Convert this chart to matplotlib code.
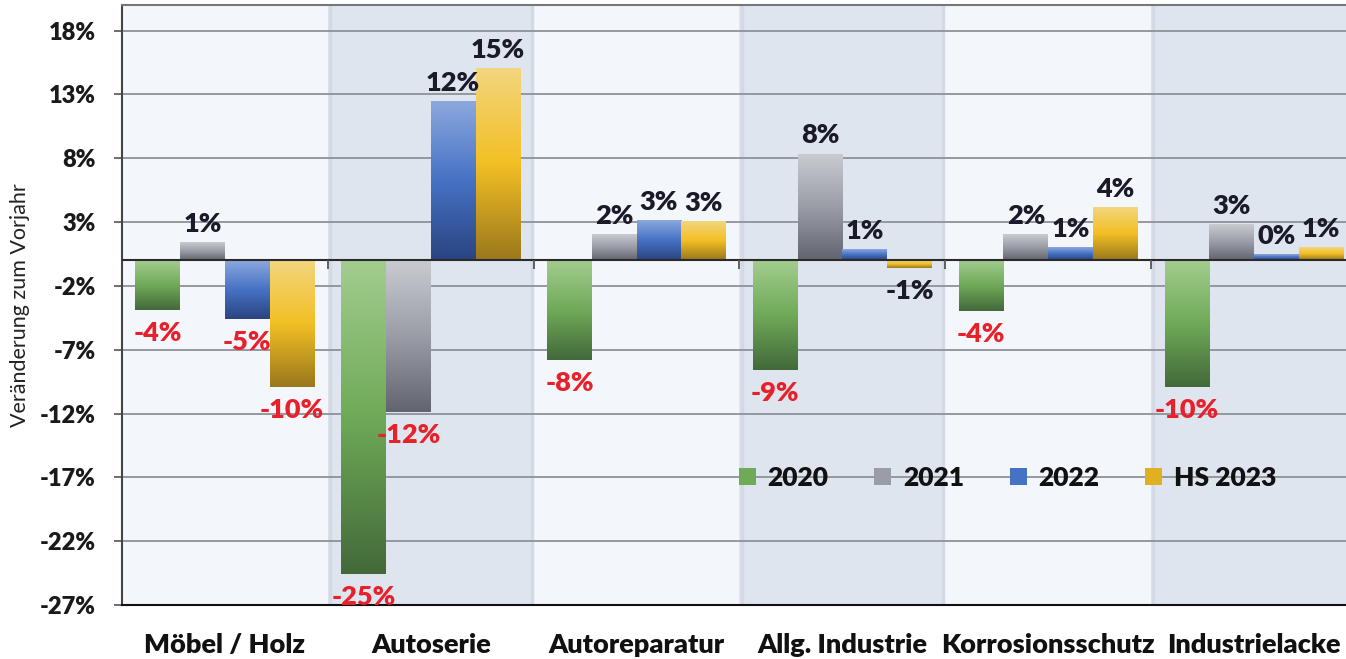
import numpy as np
import matplotlib
matplotlib.use("Agg")
import matplotlib.pyplot as plt
from matplotlib.colors import LinearSegmentedColormap
from matplotlib.patches import Patch

# data
categories = ["Möbel / Holz", "Autoserie", "Autoreparatur", "Allg. Industrie",
              "Korrosionsschutz", "Industrielacke"]
series = ["2020", "2021", "2022", "HS 2023"]
v2020 = [-3.9, -24.6, -7.8, -8.6, -4.0, -9.9]
v2021 = [1.4, -11.9, 2.0, 8.3, 2.0, 2.8]
v2022 = [-4.6, 12.4, 3.1, 0.8, 1.0, 0.45]
v2023 = [-9.9, 15.0, 3.0, -0.6, 4.1, 0.95]
yticks = list(range(-27, 19, 5))

plt.rcParams['font.family'] = ['Lato', 'DejaVu Sans']
BOLD = "heavy"

# gradient stops top -> bottom for each series
stops = [
    ["#A3CD8F", "#6FAA58", "#43693A"],
    ["#C9CBD1", "#9A9DA6", "#62656F"],
    ["#8CA8DE", "#4672C4", "#2A4480"],
    ["#F3D67E", "#F2BF24", "#9A781C"],
]
legend_cols = ["#6FAA58", "#9A9DA6", "#4672C4", "#E0B020"]

fig = plt.figure(figsize=(13.46, 6.59), dpi=100)
ax = fig.add_axes([122 / 1346, 54 / 659, 1235 / 1346, 600 / 659])
ax.set_facecolor("#F3F6FB")

n = len(categories)
x = np.arange(n)
for i in range(n):
    if i % 2 == 1:
        ax.axvspan(i - 0.5, i + 0.5, color="#DFE5EF", zorder=0, lw=0)
        ax.axvline(i - 0.49, color="#D3DAE6", lw=2.5, zorder=0.5)
        ax.axvline(i + 0.49, color="#D3DAE6", lw=2.5, zorder=0.5)

ax.set_yticks(yticks)
ax.set_yticklabels([f"{t}%" for t in yticks], fontsize=17, fontweight=BOLD,
                   color="#1A1A1A")
ax.grid(axis="y", color="#8E9198", lw=1.3, zorder=1)
ax.axhline(0, color="#2A2A2A", lw=1.5, zorder=4)

w = 0.2175
all_vals = [v2020, v2021, v2022, v2023]
grad = np.linspace(0, 1, 256).reshape(-1, 1)
for s, vals in enumerate(all_vals):
    offs = (s - 1.5) * w
    bars = ax.bar(x + offs, vals, w, facecolor="none", edgecolor="none", zorder=3)
    cmap = LinearSegmentedColormap.from_list(f"g{s}", stops[s])
    for rect, v in zip(bars, vals):
        x0, y0 = rect.get_x(), rect.get_y()
        rw, rh = rect.get_width(), rect.get_height()
        ax.imshow(grad, cmap=cmap, aspect="auto", origin="upper", zorder=3,
                  extent=(x0, x0 + rw, min(y0, y0 + rh), max(y0, y0 + rh)))
        lab = f"{v:.0f}%"
        cx = x0 + rw / 2
        if v >= 0:
            ax.annotate(lab, (cx, v), xytext=(0, 5), textcoords="offset points",
                        ha="center", va="bottom", fontsize=19.5, fontweight=BOLD,
                        color="#1A1A28", zorder=5)
        else:
            col = "#1A1A28" if v > -1 else "#E8202A"
            ax.annotate(lab, (cx, v), xytext=(0, -8), textcoords="offset points",
                        ha="center", va="top", fontsize=19.5, fontweight=BOLD,
                        color=col, zorder=5)

ax.set_xlim(-0.5, n - 0.5)
ax.set_ylim(-27, 20)

# small ticks at category boundaries on the zero line
ax.vlines(np.arange(n - 1) + 0.5, -0.65, 0, color="#555555", lw=1.3, zorder=4)

ax.set_xticks(x)
ax.set_xticklabels(categories, fontsize=19.5, fontweight=BOLD, color="#111111")
ax.tick_params(axis="x", length=0, pad=20)
ax.tick_params(axis="y", length=6, width=1.2, color="#555555", pad=13)

ax.set_ylabel("Veränderung zum Vorjahr", fontsize=15.5, color="#222222", labelpad=7)

ax.spines["right"].set_visible(False)
ax.spines["left"].set_color("#444444")
ax.spines["left"].set_linewidth(1.5)
ax.spines["bottom"].set_color("#111111")
ax.spines["bottom"].set_linewidth(1.5)
ax.spines["top"].set_color("#777777")
ax.spines["top"].set_linewidth(1.5)

handles = [Patch(facecolor=c, edgecolor="none") for c in legend_cols]
leg = ax.legend(handles, series, loc="center", bbox_to_anchor=(0.717, 0.212),
                ncol=4, frameon=False, handlelength=0.64, handleheight=0.64,
                handletextpad=0.45, columnspacing=1.73,
                prop={"size": 19, "weight": BOLD})
for t in leg.get_texts():
    t.set_color("#111111")

fig.savefig("out.png", dpi=100)
plt.close(fig)
